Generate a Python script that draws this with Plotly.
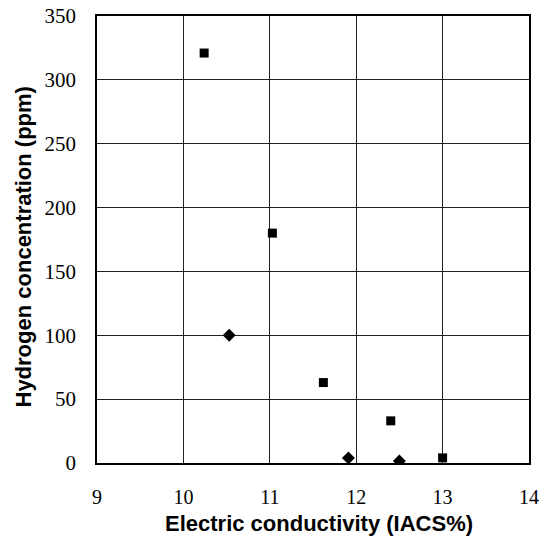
import plotly.graph_objects as go

# Data
sq_x = [10.24, 11.03, 11.62, 12.40, 13.00]
sq_y = [321, 180, 63, 33, 4]
dm_x = [10.53, 11.91, 12.50]
dm_y = [100, 4, 1.5]

x_ticks = [9, 10, 11, 12, 13, 14]
y_ticks = [0, 50, 100, 150, 200, 250, 300, 350]

x_title = "Electric conductivity (IACS%)"
y_title = "Hydrogen concentration (ppm)"

fig = go.Figure()
fig.add_trace(go.Scatter(x=sq_x, y=sq_y, mode="markers",
                         marker=dict(symbol="square", size=9, color="black"),
                         showlegend=False))
fig.add_trace(go.Scatter(x=dm_x, y=dm_y, mode="markers",
                         marker=dict(symbol="diamond", size=10, color="black"),
                         showlegend=False))

fig.update_layout(
    width=548, height=539,
    margin=dict(l=89, r=27, t=8, b=84),
    paper_bgcolor="white", plot_bgcolor="white",
    font=dict(family="Liberation Serif, serif", color="black", size=21),
)
fig.update_xaxes(
    range=[9, 14], tickvals=x_ticks, ticktext=[str(v) for v in x_ticks],
    showgrid=True, gridcolor="#222", gridwidth=1.3,
    showline=True, linecolor="black", linewidth=1.6, mirror=True,
    zeroline=False, ticks="outside", ticklen=0, ticklabelstandoff=15,
    automargin=False,
    tickfont=dict(family="Liberation Serif, serif", size=20, color="black"),
)
fig.update_yaxes(
    range=[0, 350], tickvals=y_ticks, ticktext=[str(v) for v in y_ticks],
    showgrid=True, gridcolor="#222", gridwidth=1.3,
    showline=True, linecolor="black", linewidth=1.6, mirror=True,
    zeroline=False, ticks="outside", ticklen=0, ticklabelstandoff=15,
    automargin=False, ticklabeloverflow="allow",
    tickfont=dict(family="Liberation Serif, serif", size=21, color="black"),
)

fig.add_annotation(
    text="<b>" + x_title + "</b>", xref="paper", yref="paper",
    x=0.5, y=0, xanchor="center", yanchor="middle",
    xshift=6, yshift=-60, showarrow=False,
    font=dict(family="Liberation Sans, Arial, sans-serif", size=22, color="black"),
)
fig.add_annotation(
    text="<b>" + y_title + "</b>", xref="paper", yref="paper",
    x=0, y=0.5, xanchor="center", yanchor="middle", textangle=-90,
    xshift=-74, yshift=-8, showarrow=False,
    font=dict(family="Liberation Sans, Arial, sans-serif", size=22, color="black"),
)

fig.write_html("out.html")
